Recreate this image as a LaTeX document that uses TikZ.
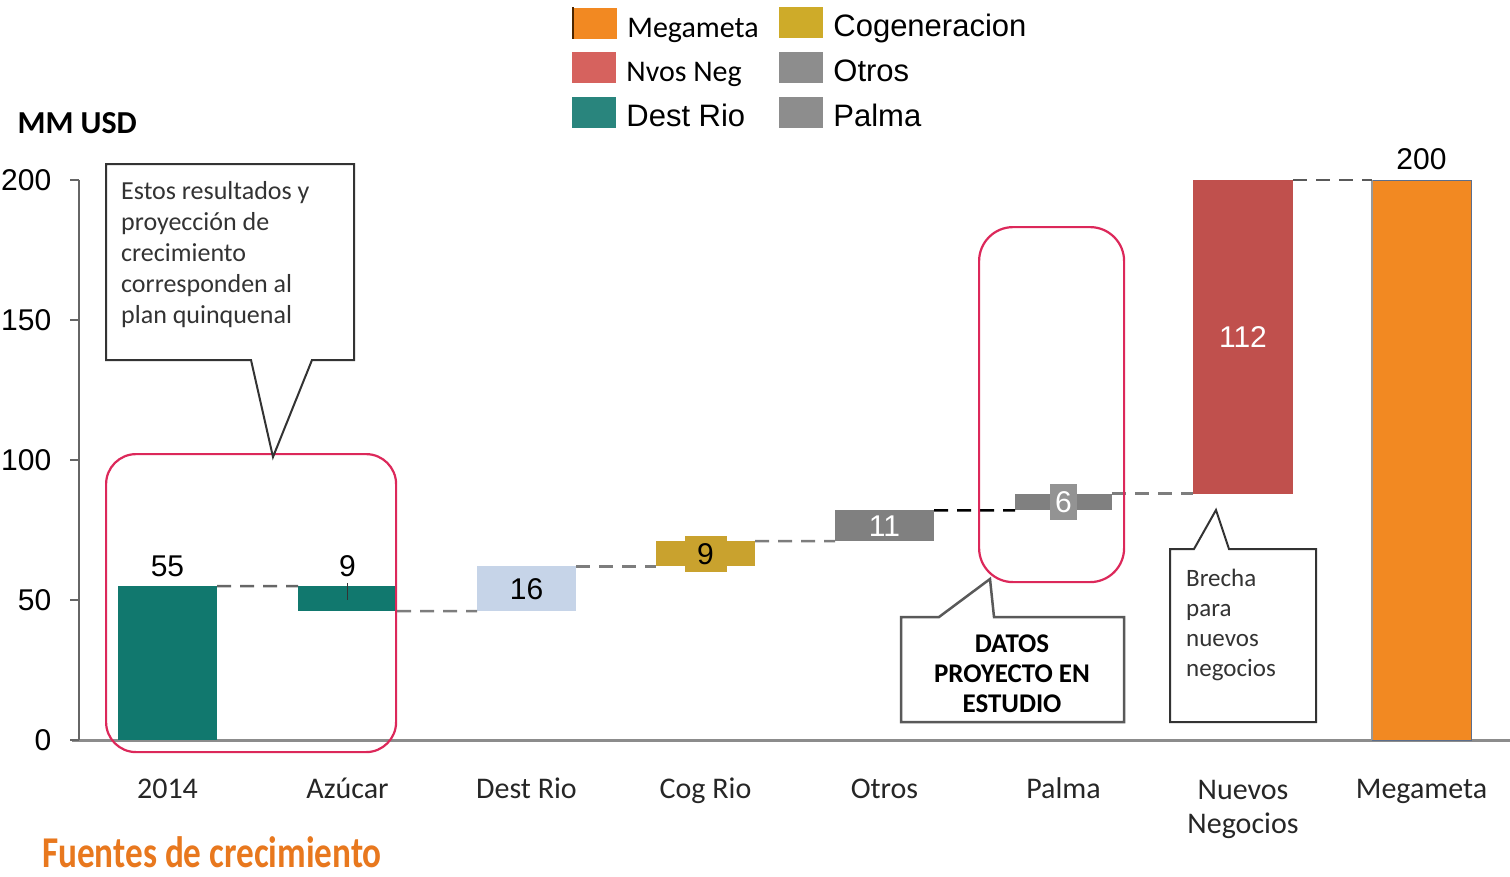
\documentclass[tikz,border=0pt]{standalone}
\usepackage{fontspec}
\setmainfont{Liberation Sans}
\newfontfamily\calfont{Carlito}
\usetikzlibrary{positioning}

\definecolor{destteal}{RGB}{17,120,110}
\definecolor{destlight}{RGB}{198,212,232}
\definecolor{cogold}{RGB}{201,162,46}
\definecolor{otrosgray}{RGB}{128,128,128}
\definecolor{nvosred}{RGB}{192,80,77}
\definecolor{nvoskey}{RGB}{214,98,94}
\definecolor{megaorange}{RGB}{242,137,34}
\definecolor{megaedge}{RGB}{92,110,140}
\definecolor{hilitered}{RGB}{220,40,90}
\definecolor{titleorange}{RGB}{232,120,30}
\definecolor{axisgray}{RGB}{140,140,140}
\definecolor{linkgray}{RGB}{125,125,125}

\newcommand{\valy}[1]{740-2.8*#1}
\newcommand{\numfont}{\fontsize{30}{34}\selectfont}
\newcommand{\catfont}{\calfont\fontsize{30}{34}\selectfont}
\newcommand{\notefont}{\calfont\fontsize{26}{31}\selectfont}

\begin{document}
\begin{tikzpicture}[x=1pt,y=-1pt,
    bar/.style={inner sep=0pt, outer sep=0pt, minimum width=99pt, anchor=south west, font=\numfont},
    link/.style={draw=linkgray, line width=2.5pt, dash pattern=on 14pt off 9pt},
    hilite/.style={draw=hilitered, line width=2.2pt, rounded corners=30pt, inner sep=0pt, anchor=north west},
    note/.style={draw=black!80, line width=2pt, fill=white, line join=miter},
    key/.style={minimum width=44pt, minimum height=31pt, inner sep=0pt},
    keylab/.style={inner sep=0pt, text height=30pt, text depth=2pt, font=\fontsize{31}{34}\selectfont},
    cat/.style={font=\catfont, inner sep=0pt, text height=20pt, text depth=6pt, text=black!85},
    val/.style={font=\numfont, inner sep=0pt},
    tick/.style={draw=black!60, line width=1.5pt},
    ticklab/.style={font=\numfont, inner sep=0pt, anchor=east, xshift=-18pt}]
    \useasboundingbox (0,0) rectangle (1510,876);
    %% Axes
    \draw[draw=axisgray, line width=3pt] (72,740) -- (1510,740);
    \draw[draw=black!60, line width=2pt] (79,180) -- (79,740);
    \draw[tick] (79,180) -- (70,180) node[ticklab] (t200) {200};
    \draw[tick] (79,320) -- (70,320) node[ticklab] (t150) {150};
    \draw[tick] (79,460) -- (70,460) node[ticklab] (t100) {100};
    \draw[tick] (79,600) -- (70,600) node[ticklab] (t50) {50};
    \draw[tick] (79,740) -- (70,740) node[ticklab] (t0) {0};
    \node[anchor=base west, font=\calfont\bfseries\fontsize{32}{36}\selectfont] (unit) at (14,133) {MM USD};
    %% Bars
    \node[bar, fill=destteal, minimum height=2.8*55pt] (b2014) at (118,740) {};
    \node[bar, fill=destteal, minimum height=2.8*9pt, anchor=north west] (bAzu) at (298,{\valy{55}}) {};
    \node[bar, fill=destlight, minimum height=2.8*16pt] (bDest) at (477,{\valy{46}}) {16};
    \node[bar, fill=cogold, minimum height=2.8*9pt] (bCog) at (656,{\valy{62}}) {};
    \node[bar, fill=otrosgray, minimum height=2.8*11pt, text=white] (bOtros) at (835,{\valy{71}}) {11};
    \node[bar, fill=otrosgray, minimum height=2.8*6pt, minimum width=97pt] (bPalma) at (1015,{\valy{82}}) {};
    \node[bar, fill=nvosred, minimum height=2.8*112pt, minimum width=100pt, text=white] (bNuevo) at (1193,{\valy{88}}) {112};
    \node[bar, fill=megaorange, minimum height=2.8*200pt, draw=megaedge, line width=1pt] (bMega) at (1372,740) {};
    \draw[black!40, line width=1.5pt] (bMega.south west) -- (bMega.north west);
    %% Steps
    \draw[link, draw=black!60] (b2014.north east) -- (bAzu.north west);
    \draw[link] (bAzu.south east) -- (bDest.south west);
    \draw[link] (bDest.north east) -- (bCog.south west);
    \draw[link] (bCog.north east) -- (bOtros.south west);
    \draw[link, draw=black] (bOtros.north east) -- (bPalma.south west);
    \draw[link] (bPalma.north east) -- (bNuevo.south west);
    \draw[link, draw=black!65] (bNuevo.north east) -- (bMega.north west);
    %% Values
    \node[val, anchor=south] (v2014) [above=9pt of b2014] {55};
    \node[val, anchor=south] (vAzu) [above=9pt of bAzu] {9};
    \draw[black!80, line width=1.2pt] ([yshift=3pt]bAzu.north) -- ([yshift=-14pt]bAzu.north);
    \node[val, fill=cogold, minimum width=42pt, minimum height=36pt] (vCog) at (bCog.center) {9};
    \node[val, fill=otrosgray!85!white, text=white, minimum width=27pt, minimum height=36pt] (vPalma) at (bPalma.center) {6};
    \node[val, anchor=south] (vMega) [above=10pt of bMega] {200};
    %% Categories
    \node[cat, anchor=north] (c2014) [below=38pt of b2014] {2014};
    \node[cat, anchor=north] (cAzu) [below=38pt of bAzu.south |- b2014.south] {Azúcar};
    \node[cat, anchor=north] (cDest) at (bDest.center |- c2014.north) {Dest Rio};
    \node[cat, anchor=north] (cCog) at (bCog.center |- c2014.north) {Cog Rio};
    \node[cat, anchor=north] (cOtros) at (bOtros.center |- c2014.north) {Otros};
    \node[cat, anchor=north] (cPalma) at (bPalma.center |- c2014.north) {Palma};
    \node[font=\catfont, inner sep=0pt, text=black!85, align=center, anchor=north] (cNuevo) at ([yshift=-2pt]bNuevo.center |- c2014.north) {Nuevos\\Negocios};
    \node[cat, anchor=north] (cMega) at (bMega.center |- c2014.north) {Megameta};
    %% Highlights
    \node[hilite, minimum width=290pt, minimum height=298pt] (grpA) at (105,453) {};
    \node[hilite, minimum width=145pt, minimum height=355pt, rounded corners=34pt] (grpB) at (978,226) {};
    %% Callouts
    \coordinate (tipA) at (273,457);
    \draw[note] (106,164) -- (354,164) -- (354,360) -- (312,360) -- (tipA) -- (251,360) -- (106,360) -- cycle;
    \node[font=\notefont, text=black!80, inner sep=0pt, align=left, anchor=north west] (noteA) at (121,181)
        {Estos resultados y\\proyección de\\crecimiento\\corresponden al\\plan quinquenal};
    \coordinate (tipB) at (990,579);
    \draw[note, draw=black!65, line width=2.5pt] (901,617) -- (939,617) -- (tipB) -- (994,617) -- (1124,617) -- (1124,722) -- (901,722) -- cycle;
    \node[font=\calfont\bfseries\fontsize{27}{30}\selectfont, inner sep=0pt, align=center, anchor=north] (noteB) at (1012,635)
        {DATOS\\PROYECTO EN\\ESTUDIO};
    \coordinate (tipC) at (1216,510);
    \draw[note] (1170,549) -- (1194,549) -- (tipC) -- (1229,549) -- (1316,549) -- (1316,722) -- (1170,722) -- cycle;
    \node[font=\calfont\fontsize{25}{30}\selectfont, text=black!80, inner sep=0pt, align=left, anchor=north west] (noteC) at (1186,569)
        {Brecha\\para\\nuevos\\negocios};
    %% Legend
    \node[key, fill=megaorange] (kMega) at (595,23) {};
    \draw[black!70!orange, line width=2pt] (kMega.north west) -- (kMega.south west);
    \node[keylab, font=\calfont\fontsize{30}{34}\selectfont] (lMega) [right=10pt of kMega] {Megameta};
    \node[key, fill=nvoskey] (kNvos) at (594,67) {};
    \node[keylab, font=\calfont\fontsize{30}{34}\selectfont] (lNvos) [right=10pt of kNvos] {Nvos Neg};
    \node[key, fill=destteal!90!white] (kDest) at (594,112) {};
    \node[keylab] (lDest) [right=10pt of kDest] {Dest Rio};
    \node[key, fill=cogold!90!yellow] (kCog) at (801,22) {};
    \node[keylab] (lCog) [right=10pt of kCog] {Cogeneracion};
    \node[key, fill=otrosgray!90!white] (kOtros) at (801,67) {};
    \node[keylab] (lOtros) [right=10pt of kOtros] {Otros};
    \node[key, fill=otrosgray!90!white] (kPalma) at (801,112) {};
    \node[keylab] (lPalma) [right=10pt of kPalma] {Palma};
    %% Title
    \node[anchor=base west, inner sep=0pt, text=titleorange] (title) at (42,867)
        {\scalebox{0.8}[1]{\calfont\bfseries\fontsize{44}{48}\selectfont Fuentes de crecimiento}};
\end{tikzpicture}
\end{document}
